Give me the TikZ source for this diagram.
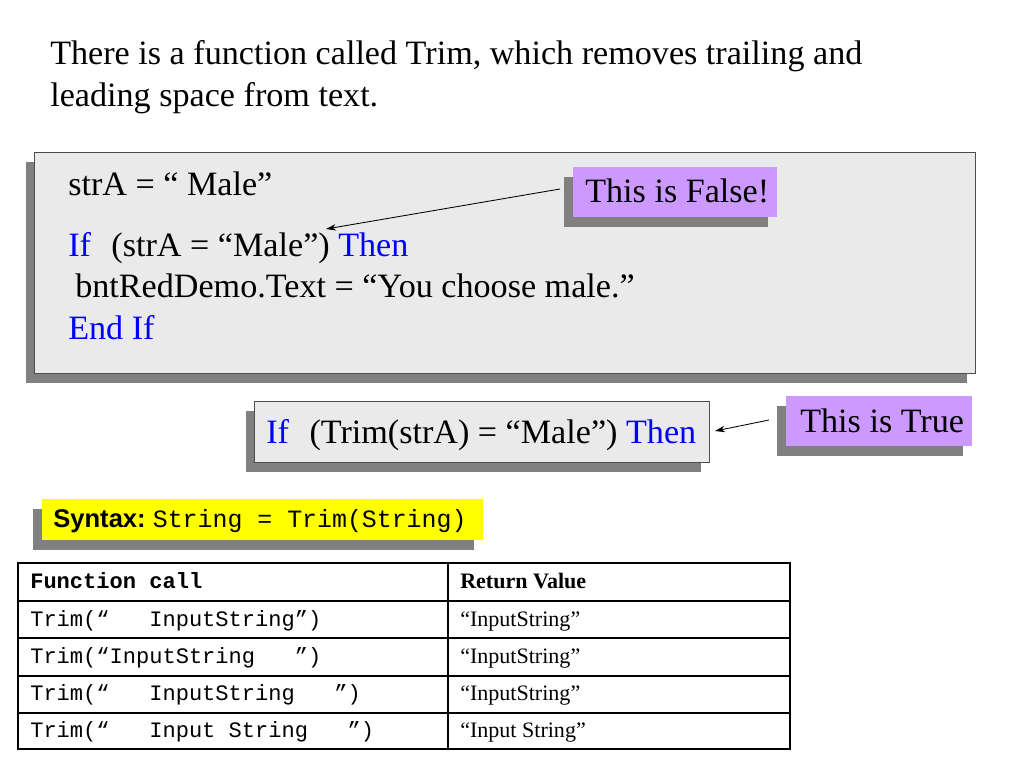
\documentclass[tikz,border=0pt]{standalone}
\usepackage{fontspec}
\setmainfont{Liberation Serif}
\setsansfont{Liberation Sans}
\setmonofont{Liberation Mono}
\usetikzlibrary{shadows,arrows.meta}
\definecolor{boxgray}{HTML}{EAEAEA}
\definecolor{edgegray}{HTML}{4D4D4D}
\definecolor{shadowgray}{HTML}{808080}
\definecolor{lav}{HTML}{CC99FF}
\definecolor{kw}{HTML}{0000FF}
\definecolor{yel}{HTML}{FFFF00}
\begin{document}
\begin{tikzpicture}[x=0.703125pt,y=-0.703125pt,
  shad/.style={general shadow={fill=shadowgray, shadow xshift=-6.3pt, shadow yshift=-6.6pt}},
  codebox/.style={shad, fill=boxgray, draw=edgegray, line width=0.8pt, inner sep=0pt, anchor=north west},
  notebox/.style={shad, fill=lav, inner sep=0pt, anchor=north west},
  txt/.style={anchor=base west, inner sep=0pt},
  big/.style={font=\fontsize{24}{28.8}\selectfont},
  tab/.style={font=\fontsize{15.5}{18}\selectfont},
  arr/.style={-{Stealth[length=7pt,width=4.5pt]}, line width=0.6pt}
]
\useasboundingbox (0,0) rectangle (1024,768);
\fill[white] (0,0) rectangle (1024,768);

% title (two lines)
\node[txt, big] (title1) at (50,65) {There is a function called Trim, which removes trailing and};
\node[txt, big] (title2) at (50,107) {leading space from text.};

% big code box
\node[codebox, minimum width=941*0.703125pt, minimum height=221*0.703125pt] (codeA) at (34,152) {};
\node[txt, big] (l1) at (68,196) {strA = “ Male”};
\node[txt, big] (l2) at (68,257) {\textcolor{kw}{If}\hspace{0.6em}(strA = “Male”) \textcolor{kw}{Then}};
\node[txt, big] (l3) at (75,298) {bntRedDemo.Text = “You choose male.”};
\node[txt, big] (l4) at (68,340) {\textcolor{kw}{End If}};

% false note
\node[notebox, minimum width=204*0.703125pt, minimum height=50*0.703125pt] (falsebox) at (573,167) {};
\node[txt, big] (falsetxt) at (585,203) {This is False!};
\coordinate (fs) at (560,189);
\coordinate (ft) at (326,229);
\draw[arr] (fs) -- (ft);

% trim box
\node[codebox, minimum width=455*0.703125pt, minimum height=61*0.703125pt] (codeB) at (254,401) {};
\node[txt, big] (trimtxt) at (266,443) {\textcolor{kw}{If}\hspace{0.6em}(Trim(strA) = “Male”) \textcolor{kw}{Then}};

% true note
\node[notebox, minimum width=186*0.703125pt, minimum height=50*0.703125pt] (truebox) at (786,396) {};
\node[txt, big] (truetxt) at (800,432) {This is True};
\coordinate (ts) at (769,420);
\coordinate (tt) at (715,431);
\draw[arr] (ts) -- (tt);

% syntax box
\node[shad, fill=yel, inner sep=0pt, anchor=north west, minimum width=441*0.703125pt, minimum height=41*0.703125pt] (synbox) at (42,499) {};
\node[txt] (syntxt) at (53,527) {\fontsize{18}{20}\selectfont\sffamily\bfseries Syntax:\mdseries\ \fontsize{17.5}{20}\selectfont\ttfamily String = Trim(String)};

% table
\draw[line width=1pt] (18,601) -- (790,601);
\draw[line width=1pt] (18,638) -- (790,638);
\draw[line width=1pt] (18,676) -- (790,676);
\draw[line width=1pt] (18,713) -- (790,713);
\draw[line width=1pt] (448,563) -- (448,749);
\draw[line width=2pt] (18,563) rectangle (790,749);

\node[txt, tab] (h1) at (30,588) {\ttfamily\bfseries Function call};
\node[txt, tab] (h2) at (460,588) {\bfseries Return Value};
\node[txt, tab] (r1a) at (30,626) {\ttfamily Trim(“~~~InputString”)};
\node[txt, tab] (r2a) at (30,663) {\ttfamily Trim(“InputString~~~”)};
\node[txt, tab] (r3a) at (30,700) {\ttfamily Trim(“~~~InputString~~~”)};
\node[txt, tab] (r4a) at (30,737) {\ttfamily Trim(“~~~Input~String~~~”)};
\node[txt, tab] (r1b) at (460,626) {“InputString”};
\node[txt, tab] (r2b) at (460,663) {“InputString”};
\node[txt, tab] (r3b) at (460,700) {“InputString”};
\node[txt, tab] (r4b) at (460,737) {“Input String”};
\end{tikzpicture}
\end{document}
